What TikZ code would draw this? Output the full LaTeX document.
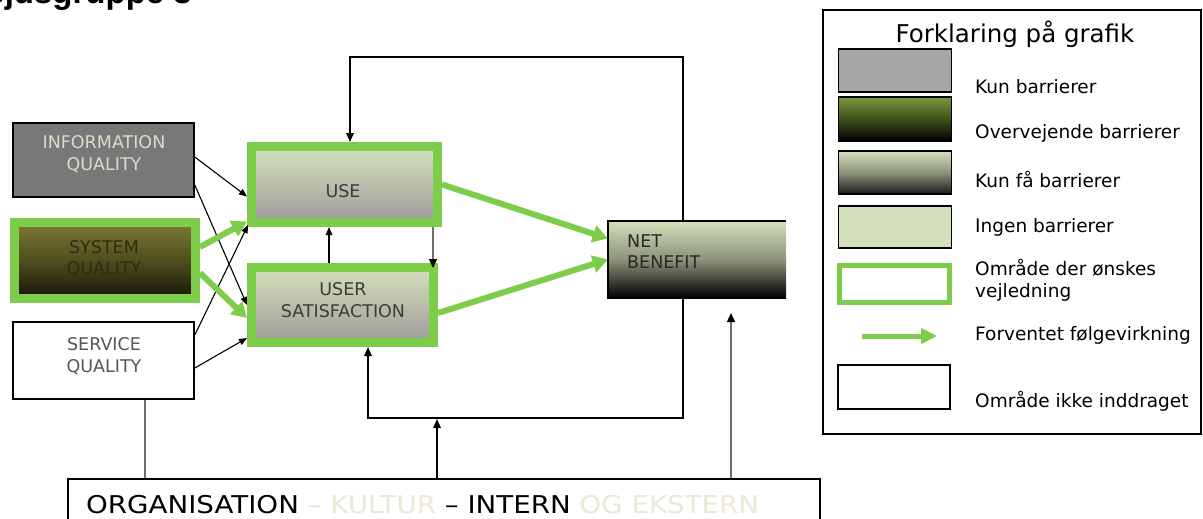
\documentclass[tikz,border=0pt]{standalone}
\usepackage{fontspec}
\setmainfont{DejaVu Sans}
\newfontfamily\titlefont{Liberation Sans}
\newfontfamily\orgfont[FakeStretch=1.13]{DejaVu Sans}
\usetikzlibrary{arrows.meta}
\definecolor{lgreen}{RGB}{125,204,74}
\definecolor{paleg}{RGB}{212,224,187}
\definecolor{infog}{RGB}{120,120,120}
\definecolor{olivetop}{RGB}{124,122,52}
\definecolor{olivemid}{RGB}{78,78,30}
\definecolor{olivebot}{RGB}{22,22,10}
\definecolor{usebot}{RGB}{156,156,156}
\definecolor{usemid}{RGB}{186,190,170}
\definecolor{netmid}{RGB}{140,146,122}
\definecolor{legtop}{RGB}{120,152,60}
\definecolor{legmid}{RGB}{62,80,30}
\definecolor{infotxt}{RGB}{218,220,204}
\definecolor{systxt}{RGB}{45,45,18}
\definecolor{servtxt}{RGB}{85,85,85}
\definecolor{usetxt}{RGB}{60,60,60}
\definecolor{nettxt}{RGB}{40,40,40}
\definecolor{paletxt}{RGB}{235,232,211}
\definecolor{swgray}{RGB}{166,166,166}
\definecolor{lineg}{RGB}{110,110,110}
\begin{document}
\begin{tikzpicture}[x=1pt,y=-1pt,
  blk/.style={draw=black, line width=1.6pt, inner sep=0pt},
  grn/.style={draw=lgreen, line width=9pt, inner sep=0pt},
  thinarr/.style={line width=1.1pt, -{Triangle[length=8pt,width=6.5pt]}},
  garr/.style={draw=lgreen, line width=6pt, -{Triangle[length=15pt,width=17pt]}},
  loopline/.style={line width=1.6pt},
  grayline/.style={draw=lineg, line width=1.4pt},
  blackhead/.style={-{Triangle[length=9pt,width=8pt,color=black]}},
  boxtxt/.style={inner sep=0pt, font=\fontsize{17.5}{21}\selectfont, anchor=base},
  legtxt/.style={inner sep=0pt, font=\fontsize{18.5}{22}\selectfont, anchor=base west},
  orgtxt/.style={inner sep=0pt, font=\orgfont\fontsize{24.5}{28}\selectfont, anchor=base west}
]
\useasboundingbox (0,0) rectangle (1203,519);
\clip (0,0) rectangle (1203,519);

% title (cut at top)
\node[inner sep=0pt, anchor=base east, font=\titlefont\bfseries\fontsize{33}{36}\selectfont] (title) at (192,4) {Arbejdsgruppe 3};

% left boxes
\node[blk, fill=infog, minimum width=181pt, minimum height=74pt] (info) at (103.5,160) {};
\node[grn, top color=olivetop, bottom color=olivebot, middle color=olivemid, minimum width=181pt, minimum height=76pt] (sys) at (105,260.5) {};
\node[blk, fill=white, minimum width=181pt, minimum height=77pt] (serv) at (103.5,360.5) {};

\node[boxtxt, text=infotxt] (infot1) at (104,148) {INFORMATION};
\node[boxtxt, text=infotxt] (infot2) at (104,170) {QUALITY};
\node[boxtxt, text=systxt] (syst1) at (104,253) {SYSTEM};
\node[boxtxt, text=systxt] (syst2) at (104,274) {QUALITY};
\node[boxtxt, text=servtxt] (servt1) at (104,350) {SERVICE};
\node[boxtxt, text=servtxt] (servt2) at (104,372) {QUALITY};

% middle boxes
\node[grn, top color=paleg, bottom color=usebot, middle color=usemid, minimum width=186pt, minimum height=76pt] (use) at (344.5,184.5) {};
\node[grn, top color=paleg, bottom color=usebot, middle color=usemid, minimum width=182pt, minimum height=75pt] (usat) at (342.5,305) {};
\node[boxtxt, text=usetxt] (uset) at (343,197) {USE};
\node[boxtxt, text=usetxt] (usatt1) at (343,295) {USER};
\node[boxtxt, text=usetxt] (usatt2) at (343,317) {SATISFACTION};

% net benefit
\node[inner sep=0pt, top color=paleg, bottom color=black, middle color=netmid, minimum width=178pt, minimum height=77pt] (net) at (697,259.5) {};
\draw[line width=1.6pt] (net.north east) -- (net.north west) -- (net.south west) -- (net.south east);
\node[boxtxt, anchor=base west, text=nettxt] (nett1) at (627,247) {NET};
\node[boxtxt, anchor=base west, text=nettxt] (nett2) at (627,268) {BENEFIT};

% organisation box
\node[blk, fill=white, minimum width=752pt, minimum height=80pt] (org) at (444,519) {};
\node[orgtxt] (orgt) at (86,513) {ORGANISATION \textcolor{paletxt}{– KULTUR} – INTERN \textcolor{paletxt}{OG EKSTERN}};

% thin arrows
\draw[thinarr] ([yshift=3pt]info.east) -- ([yshift=-12pt]use.west);
\draw[thinarr] ([yshift=-25pt]info.east) -- (usat.west);
\draw[thinarr] ([yshift=25.5pt]serv.east) -- ([xshift=1pt,yshift=2pt]use.south west);
\draw[thinarr] ([yshift=-7.5pt]serv.east) -- ([yshift=-33pt]usat.west);

% green arrows
\draw[garr] ([yshift=13.5pt]sys.east) -- ([yshift=-37pt]use.west);
\draw[garr] ([yshift=-12.5pt]sys.east) -- ([yshift=-13pt]usat.west);
\draw[garr] (use.east) -- ([yshift=21pt]net.west);
\draw[garr] ([yshift=-8pt]usat.east) -- ([yshift=0pt]net.west);

% use <-> user satisfaction
\coordinate (v1) at (329,0);
\coordinate (v2) at (433,0);
\draw[thinarr] (usat.north -| v1) -- (use.south -| v1);
\draw[grayline, blackhead] (use.south -| v2) -- ([yshift=-5pt]usat.north -| v2);

% feedback loops
\coordinate (tr) at (683,57);
\coordinate (tl) at (350,57);
\draw[loopline, -{Triangle[length=9pt,width=7.5pt]}] (net.north -| tr) -- (tr) -- (tl) -- (tl |- use.north);
\coordinate (br) at (683,418);
\coordinate (bl) at (368,418);
\draw[loopline, -{Triangle[length=9pt,width=7.5pt]}] (net.south -| br) -- (br) -- (bl) -- (bl |- usat.south);

% from organisation
\coordinate (om) at (437,419);
\draw[loopline, -{Triangle[length=9pt,width=7.5pt]}] (org.north -| om) -- (om);
\coordinate (sl) at (145,0);
\draw[grayline] (org.north -| sl) -- (serv.south -| sl);
\coordinate (rt) at (731,313);
\draw[grayline, blackhead] (org.north -| rt) -- (rt);

% legend
\node[blk, fill=white, minimum width=378pt, minimum height=424pt] (leg) at (1012,222) {};
\node[inner sep=0pt, anchor=base, font=\fontsize{24.5}{28}\selectfont] (legt) at (1015,43) {Forklaring på grafik};
\node[blk, fill=swgray, minimum width=113pt, minimum height=43pt] (sw1) at (895,70.5) {};
\node[blk, top color=legtop, bottom color=black, middle color=legmid, minimum width=113pt, minimum height=44pt] (sw2) at (895,119) {};
\node[blk, top color=paleg, bottom color=black!90, middle color=netmid, minimum width=113pt, minimum height=43pt] (sw3) at (895,172.5) {};
\node[blk, fill=paleg, minimum width=113pt, minimum height=42pt] (sw4) at (895,227) {};
\node[draw=lgreen, line width=5pt, fill=white, inner sep=0pt, minimum width=110pt, minimum height=37pt] (sw5) at (894.5,284) {};
\coordinate (la1) at (862,336);
\coordinate (la2) at (937,336);
\draw[draw=lgreen, line width=5pt, -{Triangle[length=16pt,width=15pt]}] (la1) -- (la2);
\node[blk, fill=white, minimum width=112pt, minimum height=44pt] (sw7) at (894,387) {};

\node[legtxt] (l1) at (975,94) {Kun barrierer};
\node[legtxt] (l2) at (975,138) {Overvejende barrierer};
\node[legtxt] (l3) at (975,187) {Kun få barrierer};
\node[legtxt] (l4) at (975,232) {Ingen barrierer};
\node[legtxt] (l5a) at (975,275) {Område der ønskes};
\node[legtxt] (l5b) at (975,297) {vejledning};
\node[legtxt] (l6) at (975,340) {Forventet følgevirkning};
\node[legtxt] (l7) at (975,407) {Område ikke inddraget};
\end{tikzpicture}
\end{document}
